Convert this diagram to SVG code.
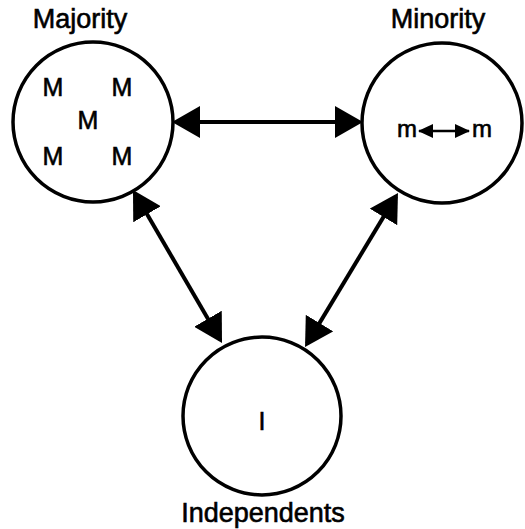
<svg xmlns="http://www.w3.org/2000/svg" width="525" height="529" viewBox="0 0 525 529">
<style>
.node{fill:#fff;stroke:#000;stroke-width:3.5}
.lbl{font-family:"Liberation Sans",Arial,sans-serif;font-size:27px;fill:#000;stroke:#000;stroke-width:0.6;text-anchor:middle}
.in{font-family:"Liberation Sans",Arial,sans-serif;font-size:25px;fill:#000;stroke:#000;stroke-width:0.6;text-anchor:middle}
.ms{font-family:"Liberation Sans",Arial,sans-serif;font-size:24px;fill:#000;stroke:#000;stroke-width:0.6;text-anchor:middle}
.conn{stroke:#000;stroke-width:4;fill:none}
.small{stroke:#000;stroke-width:2.5;fill:none}
</style>
<defs>
<marker id="ah" viewBox="0 0 28 32" refX="24" refY="16" markerWidth="28" markerHeight="32" markerUnits="userSpaceOnUse" orient="auto-start-reverse">
<path d="M0,0 L28,16 L0,32 Z" fill="#000"/>
</marker>
<marker id="ahs" viewBox="0 0 15 14" refX="14" refY="7" markerWidth="15" markerHeight="14" markerUnits="userSpaceOnUse" orient="auto-start-reverse">
<path d="M0,0 L15,7 L0,14 Z" fill="#000"/>
</marker>
</defs>
<g id="majority">
<circle class="node" cx="93" cy="122" r="80"/>
<text class="lbl" x="80" y="28">Majority</text>
<text class="in" x="53" y="96">M</text>
<text class="in" x="122" y="96">M</text>
<text class="in" x="88" y="129">M</text>
<text class="in" x="53" y="165">M</text>
<text class="in" x="122" y="165">M</text>
</g>
<g id="minority">
<circle class="node" cx="442" cy="123" r="80"/>
<text class="lbl" x="438" y="28">Minority</text>
<text class="ms" x="407" y="137">m</text>
<text class="ms" x="482" y="137">m</text>
<line class="small" x1="419" y1="131" x2="469" y2="131" marker-start="url(#ahs)" marker-end="url(#ahs)"/>
</g>
<g id="independents">
<circle class="node" cx="262" cy="416" r="79"/>
<text class="lbl" x="263" y="522">Independents</text>
<text class="in" x="262" y="430">I</text>
</g>
<g id="connectors">
<line class="conn" x1="176" y1="122" x2="359" y2="122" marker-start="url(#ah)" marker-end="url(#ah)"/>
<line class="conn" x1="135" y1="193.5" x2="220" y2="339.5" marker-start="url(#ah)" marker-end="url(#ah)"/>
<line class="conn" x1="395.9" y1="196.4" x2="307.1" y2="343.6" marker-start="url(#ah)" marker-end="url(#ah)"/>
</g>
</svg>
